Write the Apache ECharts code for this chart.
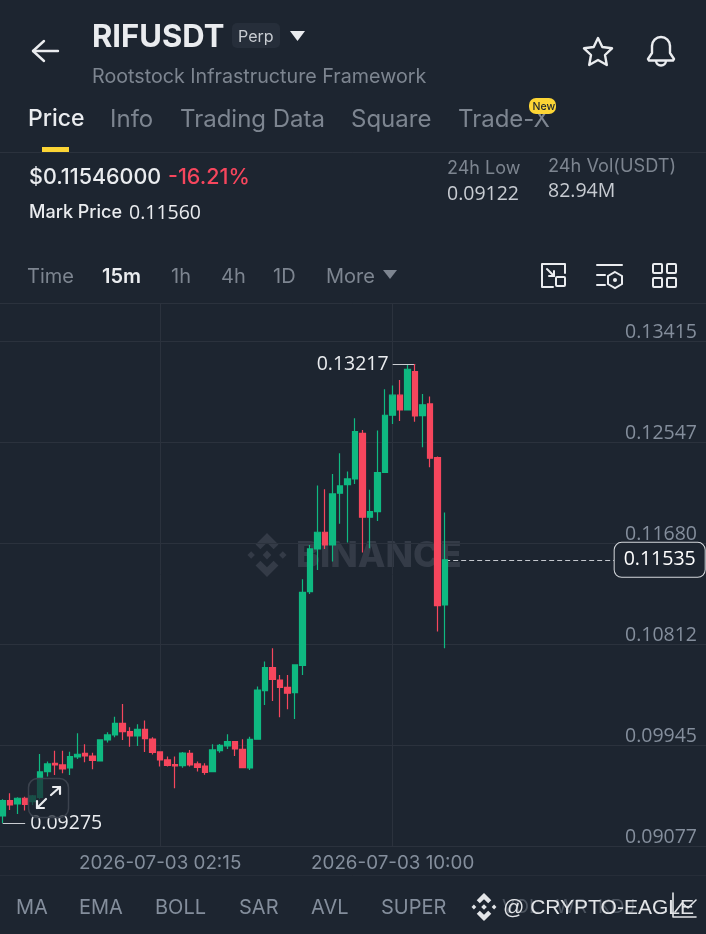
<!DOCTYPE html>
<html><head><meta charset="utf-8">
<style>html,body{margin:0;padding:0;background:#1d2530}#c{width:706px;height:934px}</style>
<script src="https://cdn.jsdelivr.net/npm/echarts@6/dist/echarts.min.js"></script>
</head><body><div id="c"></div>
<script>
const startTime = '2026-07-02T21:00:00Z';
const slotMinutes = 15;
const slotCount = 95;
const opens = [.09335,.09467,.09438,.09487,.09458,.09495,.09716,.09787,.09773,.09747,.09842,.09873,.09850,.09807,.09988,.10031,.10131,.10059,.10022,.10079,.09996,.09885,.09816,.09776,.09767,.09873,.09782,.09764,.09716,.09896,.09936,.09973,.09907,.09747,.09994,.10412,.10609,.10503,.10440,.10395,.10629,.11262,.11629,.11772,.11663,.12107,.12181,.12230,.12622,.11901,.11949,.12287,.12777,.12949,.12823,.13152,.12774,.12874,.12413,.11148];
const closes = [.09467,.09429,.09487,.09435,.09507,.09713,.09782,.09773,.09739,.09845,.09865,.09850,.09813,.09988,.10031,.10131,.10059,.10022,.10079,.09999,.09882,.09816,.09770,.09764,.09876,.09773,.09753,.09710,.09902,.09942,.09973,.09910,.09750,.09993,.10417,.10609,.10509,.10440,.10389,.10632,.11256,.11629,.11772,.11663,.12101,.12170,.12230,.12637,.11901,.11949,.12284,.12777,.12949,.12823,.13172,.12771,.12866,.12408,.11142,.11535];
const lows = [.09275,.09386,.09352,.09381,.09429,.09478,.09673,.09687,.09701,.09687,.09824,.09796,.09736,.09804,.09965,.10011,.09988,.09930,.09936,.09885,.09862,.09759,.09759,.09573,.09750,.09759,.09716,.09690,.09713,.09879,.09910,.09850,.09744,.09730,.09990,.10289,.10323,.10183,.10251,.10168,.10546,.11242,.11448,.11629,.11520,.11844,.11683,.12187,.11597,.11635,.11869,.12284,.12702,.12728,.12823,.12722,.12502,.12330,.10919,.10776];
const highs = [.09478,.09530,.09495,.09501,.09515,.09867,.09802,.09896,.09896,.09887,.10045,.09950,.09879,.09988,.10054,.10188,.10297,.10096,.10122,.10154,.10011,.09887,.09845,.09845,.09885,.09902,.09802,.09787,.09950,.09953,.10036,.09979,.09993,.10016,.10446,.10661,.10775,.10546,.10546,.10632,.11368,.11663,.12173,.12141,.12273,.12450,.12293,.12751,.12651,.12136,.12645,.13000,.13032,.13080,.13209,.13217,.12960,.12937,.12422,.11941];
const priceTicks = [0.09077,0.09945,0.10812,0.11680,0.12547,0.13415];
const timeTickIdx = [21,52];
const highIdx = 55, lowIdx = 0, lastIdx = 59;
const lastPrice = 0.11535;
const axisMin = 0.09077, axisMax = 0.13741;

const categories = [];
for (let i = 0; i < slotCount; i++) {
  const d = new Date(Date.parse(startTime) + i * slotMinutes * 60000).toISOString();
  categories.push(d.slice(0,10) + ' ' + d.slice(11,16));
}
const candles = opens.map((o,i)=>[o,closes[i],lows[i],highs[i]]);

const BG='#1d2530', GRID='#2b323d', WHITE='#eaecef', GRAY='#7d8590', AXIS='#848e9c', GREEN='#0fb981', RED='#f6465d', YEL='#fcd535';
const NUM='"Open Sans"', SANS='Inter';

function T(text,x,y,size,color,weight,opt){
  return Object.assign({type:'text',x:x,y:y,silent:true,z:50,style:Object.assign({text:text,fill:color,font:(weight||400)+' '+size+'px '+SANS,verticalAlign:'middle',align:'left'},opt||{})});
}
function N(text,x,y,size,color,weight){return T(text,x,y,size,color,weight,{font:(weight||400)+' '+size+'px '+NUM});}
function L(pts,color,w,z){return {type:'polyline',silent:true,z:z||50,shape:{points:pts},style:{stroke:color,lineWidth:w||2,fill:null,lineCap:'round',lineJoin:'round'}};}
function P(pts,color,z,op){return {type:'polygon',silent:true,z:z==null?50:z,shape:{points:pts},style:{fill:color,opacity:op==null?1:op}};}
function R(x,y,w,h,r,style,z){return {type:'rect',silent:true,z:z||50,shape:{x,y,width:w,height:h,r:r},style:style};}
function logo(cx,cy,s,color,z){
  const m=(a)=>a.map(p=>[cx+p[0]*s,cy+p[1]*s]);
  return [
    [[0,-.2],[.2,0],[0,.2],[-.2,0]],
    [[-.72,-.17],[-.55,0],[-.72,.17],[-.89,0]],
    [[.72,-.17],[.89,0],[.72,.17],[.55,0]],
    [[0,-1],[.52,-.48],[.3,-.26],[0,-.56],[-.3,-.26],[-.52,-.48]],
    [[0,1],[.52,.48],[.3,.26],[0,.56],[-.3,.26],[-.52,.48]]
  ].map(a=>P(m(a),color,z));
}
const chrome=[
  ...logo(267,555,22,'#343b47',0),
  {type:'text',x:296,y:556,z:0,silent:true,style:{text:'BINANCE',fill:'#343b47',font:'800 36px '+SANS,verticalAlign:'middle'}},
  // header
  L([[33,51],[58,51]],WHITE,2.4), L([[44,41],[33,51],[44,61]],WHITE,2.4),
  T('RIFUSDT',92,38,31,WHITE,700),
  R(232,23,48,25,5,{fill:'#262e3a'}),
  T('Perp',238,37,16,'#c8ccd2',400),
  P([[290,31],[305,31],[297.5,41]],WHITE),
  T('Rootstock Infrastructure Framework',92,77,19.7,GRAY,400),
  // star
  {type:'polygon',silent:true,z:50,shape:{points:[[598,38],[602.3,47],[612,48.3],[605,55],[606.8,65],[598,60],[589.2,65],[591,55],[584,48.3],[593.7,47]]},style:{stroke:WHITE,lineWidth:2.4,fill:null,lineJoin:'round'}},
  // bell
  {type:'arc',silent:true,z:50,shape:{cx:661,cy:46,r:9,startAngle:Math.PI,endAngle:Math.PI*2,clockwise:true},style:{stroke:WHITE,lineWidth:2.4,fill:null}},
  L([[652,46],[652,53],[648,59],[649,60.5],[673,60.5],[674,59],[670,53],[670,46]],WHITE,2.4),
  {type:'arc',silent:true,z:50,shape:{cx:661,cy:60.5,r:5,startAngle:0,endAngle:Math.PI,clockwise:true},style:{stroke:WHITE,lineWidth:2.4,fill:null}},
  // tabs
  T('Price',28,119.5,23,WHITE,500),
  T('Info',110,119.5,24,GRAY),
  T('Trading Data',180,119.5,24,GRAY),
  T('Square',351,119.5,24,GRAY),
  T('Trade-X',458,119.5,24,GRAY),
  R(529,98,27,16,7,{fill:YEL},51),
  Object.assign(T('New',532.5,106.5,10.5,'#1d2530',500),{z:52}),
  R(42,147,27,5,0,{fill:YEL}),
  L([[0,152.5],[706,152.5]],GRID,1),
  // price block
  T('$0.11546000',29,178,21.5,WHITE,500),
  T('-16.21%',168,178,21.5,RED,500),
  T('Mark Price',29,213,18,WHITE,500),
  N('0.11560',129,213,19.5,WHITE,400),
  T('24h Low',447,169,18,GRAY),
  N('0.09122',447,194,19.5,'#c8ccd2'),
  T('24h Vol(USDT)',548,167,18.2,GRAY),
  N('82.94M',548,191,19.5,'#c8ccd2'),
  // interval row
  T('Time',27,277,20,GRAY),
  T('15m',102,277,20,WHITE,600),
  T('1h',171,277,20,GRAY),
  T('4h',221,277,20,GRAY),
  T('1D',273,277,20,GRAY),
  T('More',326,277,20,GRAY),
  P([[383,270],[397,270],[390,279]],GRAY),
  // tool icons
  L([[553,264],[542,264],[542,287],[553,287]],WHITE,2),
  L([[553,264],[565,264],[565,273]],WHITE,2),
  L([[547,269],[554,276]],WHITE,2), L([[554,271],[554,276],[549,276]],WHITE,2),
  R(556,277,9,9,1,{stroke:WHITE,lineWidth:2,fill:null}),
  L([[597,265],[622,265]],WHITE,2), L([[597,275],[605,275]],WHITE,2), L([[597,285],[605,285]],WHITE,2),
  {type:'polygon',silent:true,z:50,shape:{points:[[615,272],[622,276],[622,284],[615,288],[608,284],[608,276]]},style:{stroke:WHITE,lineWidth:2,fill:null}},
  {type:'circle',silent:true,z:50,shape:{cx:615,cy:280,r:2},style:{fill:WHITE}},
  R(653,264,9,9,1,{stroke:WHITE,lineWidth:2,fill:null}),
  R(667,264,9,9,1,{stroke:WHITE,lineWidth:2,fill:null}),
  R(653,278,9,9,1,{stroke:WHITE,lineWidth:2,fill:null}),
  R(667,278,9,9,1,{stroke:WHITE,lineWidth:2,fill:null}),
  L([[0,303.5],[706,303.5]],GRID,1),
  L([[0,875.5],[706,875.5]],'#262d38',1),
  // indicators
  T('MA',16,907.5,20,AXIS),
  T('EMA',79,907.5,20,AXIS),
  T('BOLL',155,907.5,20,AXIS),
  T('SAR',239,907.5,20,AXIS),
  T('AVL',311,907.5,20,AXIS),
  T('SUPER',381,907.5,20,AXIS),
  T('VOL',502,907,19,'#4d5560'),
  T('WR',556,907,19,'#4d5560'),
  T('KDJ',598,907,19,'#4d5560'),
  // overlay watermark
  ...logo(484,907,14,'#e3e5e8',60),
  Object.assign(T('@ CRYPTO-EAGLE',503,908,21,'#e3e5e8',400,{font:'400 21px "Liberation Sans"'}),{z:60}),
  L([[673,893],[673,917],[696,917]],'#e3e5e8',1.6,60),
  L([[675,912],[682,903],[688,908],[696,900]],'#e3e5e8',1.6,60),
  // expand button
  R(28.5,778.5,40,39,9,{fill:'rgba(29,37,48,0.72)',stroke:'#3b424d',lineWidth:1.5},80),
  L([[37,808],[46,799]],WHITE,2.2,81), L([[37,801],[37,808],[44,808]],WHITE,2.2,81),
  L([[51,795],[60,787]],WHITE,2.2,81), L([[53,787],[60,787],[60,794]],WHITE,2.2,81)
];

const chart=echarts.init(document.getElementById('c'),null,{renderer:'canvas'});
chart.setOption({
  animation:false,
  backgroundColor:BG,
  grid:{left:-1.08,top:303,width:712.5,height:543,containLabel:false,outerBoundsMode:'none'},
  xAxis:{type:'category',data:categories,boundaryGap:true,
    axisLine:{show:true,lineStyle:{color:GRID,width:1}},
    axisTick:{show:false,alignWithLabel:true},
    axisLabel:{show:true,color:AXIS,fontFamily:'Inter',fontSize:18.8,margin:8,hideOverlap:false,
      interval:(i)=>timeTickIdx.includes(i)},
    splitLine:{show:true,alignWithLabel:true,interval:(i)=>timeTickIdx.includes(i),lineStyle:{color:GRID,width:1}}},
  yAxis:{type:'value',position:'right',min:axisMin,max:axisMax,scale:true,
    axisLine:{show:false},
    axisTick:{show:false,customValues:priceTicks},
    axisLabel:{inside:true,customValues:priceTicks,color:AXIS,fontFamily:NUM,fontSize:19.5,margin:14.4,verticalAlign:'bottom',formatter:(v)=>v.toFixed(5),lineHeight:18},
    splitLine:{show:true,lineStyle:{color:GRID,width:1}}},
  graphic:{elements:chrome},
  series:[{type:'candlestick',data:candles,barWidth:6,z:5,
    itemStyle:{color:GREEN,color0:RED,borderColor:GREEN,borderColor0:RED,borderWidth:1.2},
    markLine:{silent:true,symbol:'none',animation:false,precision:5,data:[
      [{coord:[highIdx,highs[highIdx]],lineStyle:{color:'#c9ccd1',width:1,type:'solid'},label:{show:true,position:'end',distance:4,formatter:highs[highIdx].toFixed(5),color:WHITE,fontFamily:NUM,fontSize:19.5}},{coord:[52,highs[highIdx]]}],
      [{coord:[lowIdx,lows[lowIdx]],lineStyle:{color:'#c9ccd1',width:1,type:'solid'},label:{show:true,position:'end',distance:5,formatter:lows[lowIdx].toFixed(5),color:WHITE,fontFamily:NUM,fontSize:19.5}},{coord:[3,lows[lowIdx]]}],
      [{coord:[lastIdx,lastPrice],lineStyle:{color:'#c4c8ce',width:1,type:[5,3]},label:{show:true,position:'end',distance:-3,formatter:lastPrice.toFixed(5),color:'#fff',fontFamily:NUM,fontSize:19.5,backgroundColor:BG,borderColor:'#d5d8dc',borderWidth:1,borderRadius:7,padding:[7,9]}},{coord:[82,lastPrice]}]
    ]}
  }]
});
</script></body></html>
